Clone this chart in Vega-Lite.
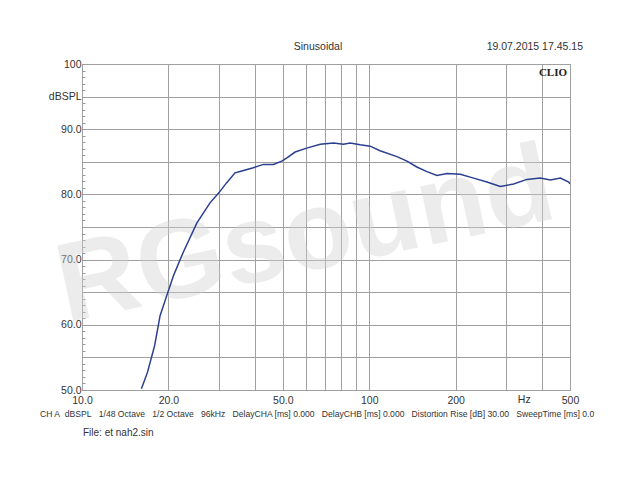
{
  "$schema": "https://vega.github.io/schema/vega-lite/v6.json",
  "width": 488,
  "height": 326,
  "autosize": "none",
  "padding": {"left": 82, "top": 64, "right": 60, "bottom": 90},
  "background": "white",
  "config": {
    "view": {"stroke": "#8c8c8c", "strokeWidth": 1},
    "font": "Liberation Sans",
    "axis": {"labelFont": "Liberation Sans"},
    "text": {"font": "Liberation Sans", "fontSize": 10.5, "color": "#333333"}
  },
  "datasets": {
    "curve": [
      {"f": 16.1, "v": 50.2}, {"f": 16.9, "v": 52.7}, {"f": 17.9, "v": 56.8}, {"f": 18.7, "v": 61.4},
      {"f": 19.7, "v": 64.4}, {"f": 20.8, "v": 67.5}, {"f": 22.5, "v": 71.1}, {"f": 25.1, "v": 75.6},
      {"f": 27.9, "v": 78.7}, {"f": 29.9, "v": 80.2}, {"f": 31.9, "v": 81.8}, {"f": 34.1, "v": 83.3},
      {"f": 36.0, "v": 83.6}, {"f": 39.5, "v": 84.1}, {"f": 42.8, "v": 84.6}, {"f": 46.4, "v": 84.6},
      {"f": 49.6, "v": 85.1}, {"f": 51.7, "v": 85.6}, {"f": 55.2, "v": 86.5}, {"f": 60.6, "v": 87.1},
      {"f": 67.5, "v": 87.7}, {"f": 75.1, "v": 87.9}, {"f": 81.3, "v": 87.7}, {"f": 85.8, "v": 87.9},
      {"f": 93.0, "v": 87.6}, {"f": 100.8, "v": 87.4}, {"f": 109, "v": 86.7}, {"f": 124.9, "v": 85.8},
      {"f": 135.3, "v": 85.1}, {"f": 146.5, "v": 84.2}, {"f": 158.8, "v": 83.5}, {"f": 172, "v": 82.9},
      {"f": 186.5, "v": 83.2}, {"f": 207.6, "v": 83.1}, {"f": 230.9, "v": 82.5}, {"f": 257, "v": 81.9},
      {"f": 286, "v": 81.2}, {"f": 318, "v": 81.6}, {"f": 354, "v": 82.3}, {"f": 394, "v": 82.5},
      {"f": 427, "v": 82.2}, {"f": 463, "v": 82.5}, {"f": 495, "v": 81.9}, {"f": 500, "v": 81.6}
    ],
    "mark": [{"f": 60, "v": 73.5, "t": "RGsound"}],
    "one": [{}]
  },
  "layer": [
    {
      "data": {"name": "mark"},
      "mark": {"type": "text", "fontSize": 112, "fontWeight": "bold", "angle": -12, "color": "#d0d0d0", "opacity": 0.4, "align": "center", "baseline": "middle", "font": "Liberation Sans"},
      "encoding": {
        "x": {"field": "f", "type": "quantitative", "scale": {"type": "log", "domain": [10, 500], "nice": false},
          "axis": {"values": [10,20,30,40,50,60,70,80,90,100,200,300,400,500], "tickCount": 100,
            "labelExpr": "indexof([10,20,50,100,200,500], datum.value) >= 0 ? (datum.value < 100 ? format(datum.value, '.1f') : format(datum.value, 'd')) : ''",
            "title": null, "grid": true, "gridColor": "#a0a0a0", "ticks": false, "domain": false,
            "labelFontSize": 10.5, "labelColor": "#333333", "labelPadding": 5, "labelFlush": false, "labelOverlap": false}},
        "y": {"field": "v", "type": "quantitative", "scale": {"domain": [50, 100], "nice": false, "zero": false},
          "axis": {"orient": "left", "tickCount": 200, "values": [50,51,52,53,54,55,56,57,58,59,60,61,62,63,64,65,66,67,68,69,70,71,72,73,74,75,76,77,78,79,80,81,82,83,84,85,86,87,88,89,90,91,92,93,94,95,96,97,98,99,100],
            "labelExpr": "datum.value == 100 ? '100' : (datum.value == 95 ? 'dBSPL' : (datum.value % 10 == 0 ? format(datum.value, '.1f') : ''))",
            "title": null, "grid": true, "gridColor": "#a0a0a0",
            "gridOpacity": {"condition": {"test": "datum.value % 5 != 0", "value": 0}, "value": 1},
            "ticks": true, "tickSize": -3, "tickColor": "#9a9a9a", "domain": false,
            "labelFontSize": 10.5, "labelColor": "#333333", "labelPadding": 4, "labelOverlap": false}},
        "text": {"field": "t"}
      }
    },
    {
      "data": {"name": "curve"},
      "mark": {"type": "line", "color": "#2a3f8f", "strokeWidth": 1.5, "clip": true},
      "encoding": {
        "x": {"field": "f", "type": "quantitative"},
        "y": {"field": "v", "type": "quantitative"}
      }
    },
    {
      "data": {"name": "one"},
      "mark": {"type": "text", "align": "right", "baseline": "top", "dx": -3, "dy": 3, "fontWeight": "bold", "font": "Liberation Serif", "fontSize": 11, "color": "#222222"},
      "encoding": {"x": {"datum": 500, "type": "quantitative"}, "y": {"datum": 100, "type": "quantitative"}, "text": {"value": "CLIO"}}
    },
    {
      "data": {"name": "one"},
      "mark": {"type": "text", "align": "center", "baseline": "middle", "dx": -8, "dy": -17},
      "encoding": {"x": {"datum": 70.71, "type": "quantitative"}, "y": {"datum": 100, "type": "quantitative"}, "text": {"value": "Sinusoidal"}}
    },
    {
      "data": {"name": "one"},
      "mark": {"type": "text", "align": "right", "baseline": "middle", "dx": 13, "dy": -17},
      "encoding": {"x": {"datum": 500, "type": "quantitative"}, "y": {"datum": 100, "type": "quantitative"}, "text": {"value": "19.07.2015 17.45.15"}}
    },
    {
      "data": {"name": "one"},
      "mark": {"type": "text", "align": "center", "baseline": "middle", "dy": 10, "dx": -3},
      "encoding": {"x": {"datum": 355, "type": "quantitative"}, "y": {"datum": 50, "type": "quantitative"}, "text": {"value": "Hz"}}
    },
    {
      "data": {"name": "one"},
      "mark": {"type": "text", "align": "left", "baseline": "middle", "dx": -42, "dy": 24, "fontSize": 8.6},
      "encoding": {"x": {"datum": 10, "type": "quantitative"}, "y": {"datum": 50, "type": "quantitative"},
        "text": {"value": "CH A\u00a0 dBSPL\u00a0\u00a0 1/48 Octave\u00a0\u00a0 1/2 Octave\u00a0\u00a0 96kHz\u00a0\u00a0 DelayCHA [ms] 0.000\u00a0\u00a0 DelayCHB [ms] 0.000\u00a0\u00a0 Distortion Rise [dB] 30.00\u00a0\u00a0 SweepTime [ms] 0.0"}}
    },
    {
      "data": {"name": "one"},
      "mark": {"type": "text", "align": "left", "baseline": "middle", "dx": 1, "dy": 43, "fontSize": 10},
      "encoding": {"x": {"datum": 10, "type": "quantitative"}, "y": {"datum": 50, "type": "quantitative"}, "text": {"value": "File: et nah2.sin"}}
    }
  ]
}
